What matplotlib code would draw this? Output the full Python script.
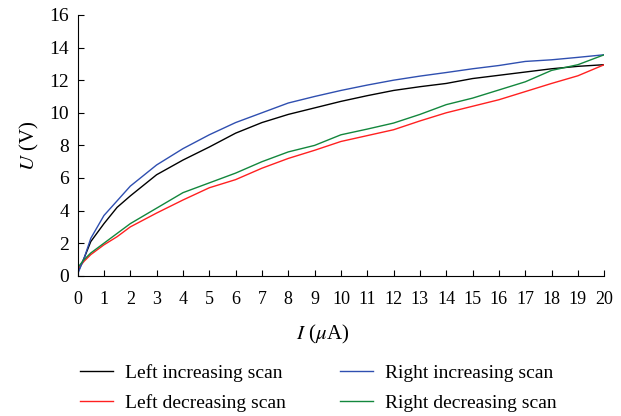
import matplotlib
matplotlib.use('Agg')
import matplotlib.pyplot as plt

plt.rcParams['font.family'] = 'Liberation Serif'
plt.rcParams['mathtext.fontset'] = 'stix'

# current (uA) sample points
current = [0, 0.25, 0.5, 1, 1.5, 2, 3, 4, 5, 6, 7, 8, 9, 10, 11, 12, 13, 14, 15, 16, 17, 18, 19, 20]

# voltage (V)
left_inc = [0.2, 1.1, 2.1, 3.2, 4.2, 4.9, 6.2, 7.1, 7.9, 8.75, 9.4, 9.9, 10.3, 10.7, 11.05, 11.37, 11.6, 11.8, 12.1, 12.3, 12.5, 12.7, 12.85, 12.95]
left_dec = [0.4, 0.9, 1.3, 1.9, 2.4, 3.0, 3.85, 4.65, 5.4, 5.9, 6.6, 7.2, 7.7, 8.24, 8.6, 8.96, 9.5, 10.0, 10.4, 10.8, 11.3, 11.8, 12.27, 12.95]
right_inc = [0.1, 1.1, 2.3, 3.7, 4.6, 5.5, 6.8, 7.8, 8.65, 9.4, 10.0, 10.6, 11.0, 11.37, 11.7, 12.0, 12.25, 12.47, 12.7, 12.9, 13.15, 13.25, 13.4, 13.56]
right_dec = [0.5, 1.0, 1.4, 2.0, 2.6, 3.2, 4.15, 5.1, 5.7, 6.3, 7.0, 7.6, 8.0, 8.65, 9.0, 9.37, 9.9, 10.5, 10.9, 11.4, 11.9, 12.6, 12.95, 13.56]

fig = plt.figure(figsize=(6.21, 4.16), dpi=100)
ax = fig.add_axes([0.125, 0.337, 0.848, 0.627])

ax.plot(current, left_inc, color='black', lw=1, label='Left increasing scan')
ax.plot(current, left_dec, color='#ff2020', lw=1, label='Left decreasing scan')
ax.plot(current, right_inc, color='#2f4fb0', lw=1, label='Right increasing scan')
ax.plot(current, right_dec, color='#13873d', lw=1, label='Right decreasing scan')

ax.set_xlim(0, 20)
ax.set_ylim(0, 16)
ax.set_xticks(range(0, 21))
ax.set_yticks(range(0, 17, 2))
ax.tick_params(direction='in', length=4)
ax.tick_params(axis='x', labelsize=13, pad=11)
ax.tick_params(axis='y', labelsize=14, pad=6)
ax.spines['top'].set_visible(False)
ax.spines['right'].set_visible(False)

ax.set_xlabel(r'$I$ ($\mu$A)', fontsize=15)
ax.xaxis.set_label_coords(0.466, -0.18)
ax.set_ylabel(r'$U$ (V)', fontsize=15, labelpad=6)

fig.legend(loc='upper left', bbox_to_anchor=(0.129, 0.124), ncol=2, frameon=False,
           fontsize=14, handlelength=1.7, handletextpad=0.6, columnspacing=2.8,
           labelspacing=0.6, borderpad=0, borderaxespad=0)

fig.savefig('out.png', dpi=100)
